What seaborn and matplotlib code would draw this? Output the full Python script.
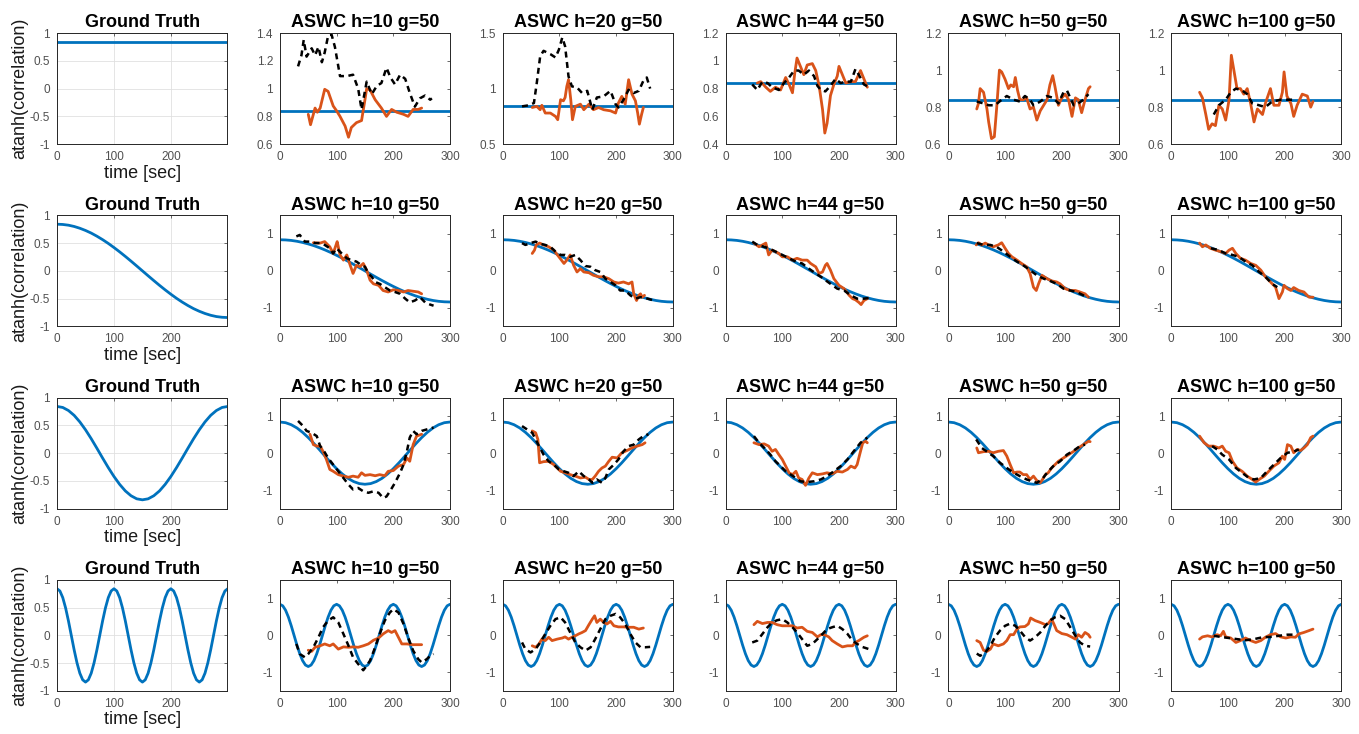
import matplotlib
matplotlib.use("Agg")
import matplotlib.pyplot as plt
from matplotlib.ticker import FuncFormatter
import seaborn as sns
import pandas as pd

# ── Style ────────────────────────────────────────────────────────────────────
sns.set_theme(style="white")
plt.rcParams.update({
    "axes.unicode_minus": False,
    "axes.edgecolor": "#262626",
    "axes.linewidth": 0.7,
    "xtick.direction": "in",
    "ytick.direction": "in",
    "xtick.color": "#505050",
    "ytick.color": "#505050",
    "text.color": "black",
    "axes.labelcolor": "#1a1a1a",
})
plt.rcParams["font.family"] = ["Liberation Sans", "DejaVu Sans"]

BLUE = "#0072BD"
ORANGE = "#D95319"
TITLES = ["Ground Truth", "ASWC h=10 g=50", "ASWC h=20 g=50",
          "ASWC h=44 g=50", "ASWC h=50 g=50", "ASWC h=100 g=50"]

# ── Ground truth curves ──────────────────────────────────────────────────────
GT_T_FLAT = [0, 300]
GT_FLAT = [0.84, 0.84]

GT_T10 = [0, 10, 20, 30, 40, 50, 60, 70, 80, 90, 100, 110, 120, 130, 140, 150,
          160, 170, 180, 190, 200, 210, 220, 230, 240, 250, 260, 270, 280, 290, 300]
GT_SLOW = [0.840, 0.835, 0.822, 0.799, 0.767, 0.727, 0.680, 0.624, 0.562, 0.494, 0.420,
           0.342, 0.260, 0.175, 0.088, 0.000, -0.088, -0.175, -0.260, -0.342, -0.420,
           -0.494, -0.562, -0.624, -0.680, -0.727, -0.767, -0.799, -0.822, -0.835, -0.840]
GT_MID = [0.840, 0.822, 0.767, 0.680, 0.562, 0.420, 0.260, 0.088, -0.088, -0.260, -0.420,
          -0.562, -0.680, -0.767, -0.822, -0.840, -0.822, -0.767, -0.680, -0.562, -0.420,
          -0.260, -0.088, 0.088, 0.260, 0.420, 0.562, 0.680, 0.767, 0.822, 0.840]

GT_T5 = [0, 5, 10, 15, 20, 25, 30, 35, 40, 45, 50, 55, 60, 65, 70, 75, 80, 85, 90, 95,
         100, 105, 110, 115, 120, 125, 130, 135, 140, 145, 150, 155, 160, 165, 170, 175,
         180, 185, 190, 195, 200, 205, 210, 215, 220, 225, 230, 235, 240, 245, 250, 255,
         260, 265, 270, 275, 280, 285, 290, 295, 300]
GT_FAST = [0.840, 0.799, 0.680, 0.494, 0.260, 0.000, -0.260, -0.494, -0.680, -0.799,
           -0.840, -0.799, -0.680, -0.494, -0.260, 0.000, 0.260, 0.494, 0.680, 0.799,
           0.840, 0.799, 0.680, 0.494, 0.260, 0.000, -0.260, -0.494, -0.680, -0.799,
           -0.840, -0.799, -0.680, -0.494, -0.260, 0.000, 0.260, 0.494, 0.680, 0.799,
           0.840, 0.799, 0.680, 0.494, 0.260, 0.000, -0.260, -0.494, -0.680, -0.799,
           -0.840, -0.799, -0.680, -0.494, -0.260, 0.000, 0.260, 0.494, 0.680, 0.799,
           0.840]

# ── Estimates (time, value) ──────────────────────────────────────────────────
# Row 1: constant correlation
R1_H10_RED = [(50, 0.815), (54, 0.74), (58, 0.80), (62, 0.86), (66, 0.83), (71, 0.86), (79, 0.995),
              (85, 0.98), (94, 0.875), (100, 0.84), (106, 0.80), (115, 0.73), (121, 0.65), (126, 0.72),
              (135, 0.755), (144, 0.77), (150, 0.92), (153, 1.0), (159, 0.99), (168, 0.92), (179, 0.86),
              (188, 0.80), (197, 0.85), (206, 0.83), (218, 0.815), (226, 0.80), (235, 0.85), (244, 0.85),
              (250, 0.86)]
R1_H10_BLACK = [(32, 1.16), (38, 1.24), (42, 1.35), (47, 1.23), (56, 1.29), (62, 1.24), (68, 1.30),
                (74, 1.19), (79, 1.26), (85, 1.38), (91, 1.39), (97, 1.30), (106, 1.09), (118, 1.09),
                (129, 1.10), (138, 1.0), (144, 0.85), (153, 1.05), (162, 0.96), (171, 1.02), (179, 1.04),
                (188, 1.15), (195, 1.08), (203, 1.03), (212, 1.10), (221, 1.07), (229, 0.97), (238, 0.87),
                (247, 0.93), (256, 0.95), (265, 0.92), (268, 0.93)]
R1_H20_RED = [(52, 0.83), (60, 0.84), (66, 0.81), (69, 0.85), (75, 0.78), (84, 0.78), (93, 0.75),
              (97, 0.72), (102, 0.90), (107, 0.89), (110, 0.92), (113, 1.02), (116, 1.08), (120, 0.90),
              (123, 0.72), (128, 0.84), (137, 0.86), (143, 0.81), (152, 0.86), (160, 0.81), (169, 0.83),
              (178, 0.81), (190, 0.80), (199, 0.78), (204, 0.87), (210, 0.93), (216, 0.86), (222, 1.08),
              (228, 0.95), (234, 0.89), (238, 0.78), (241, 0.68), (245, 0.77), (248, 0.83)]
R1_H20_BLACK = [(34, 0.84), (46, 0.85), (55, 0.87), (60, 1.05), (66, 1.29), (72, 1.34), (84, 1.31),
                (93, 1.28), (99, 1.35), (105, 1.46), (110, 1.38), (116, 1.11), (122, 1.02), (131, 1.01),
                (140, 0.96), (149, 0.98), (158, 0.81), (166, 0.92), (178, 0.93), (190, 0.98), (199, 0.86),
                (204, 0.83), (213, 0.90), (222, 0.99), (231, 0.96), (240, 0.98), (248, 1.07), (254, 1.10),
                (260, 1.0)]
R1_H44_RED = [(56, 0.84), (62, 0.85), (71, 0.81), (79, 0.78), (88, 0.81), (97, 0.79), (106, 0.88),
              (112, 0.83), (118, 0.77), (122, 0.91), (126, 1.02), (132, 0.96), (138, 0.90), (144, 0.97),
              (153, 0.98), (159, 0.93), (165, 0.82), (171, 0.65), (175, 0.48), (179, 0.55), (185, 0.75),
              (191, 0.83), (197, 0.89), (200, 0.96), (206, 0.90), (212, 0.84), (221, 0.85), (229, 0.85),
              (238, 0.93), (244, 0.87), (250, 0.81)]
R1_H44_BLACK = [(47, 0.83), (56, 0.79), (65, 0.85), (74, 0.84), (82, 0.81), (94, 0.79), (103, 0.84),
                (112, 0.88), (121, 0.93), (129, 0.93), (138, 0.90), (147, 0.93), (156, 0.89), (162, 0.82),
                (168, 0.79), (176, 0.78), (185, 0.82), (194, 0.87), (203, 0.84), (212, 0.85), (221, 0.85),
                (229, 0.94), (235, 0.90), (244, 0.83), (253, 0.81)]
R1_H50_RED = [(50, 0.79), (53, 0.82), (56, 0.90), (62, 0.88), (68, 0.79), (71, 0.72), (76, 0.63),
              (81, 0.64), (85, 0.79), (90, 1.0), (94, 0.99), (100, 0.95), (106, 0.90), (110, 0.92),
              (115, 0.91), (118, 0.96), (122, 0.89), (126, 0.84), (132, 0.84), (138, 0.85), (144, 0.79),
              (150, 0.80), (156, 0.73), (162, 0.78), (168, 0.81), (174, 0.84), (179, 0.92), (184, 0.97),
              (188, 0.91), (194, 0.81), (200, 0.85), (206, 0.87), (212, 0.84), (218, 0.75), (224, 0.85),
              (229, 0.84), (235, 0.77), (241, 0.84), (247, 0.90), (250, 0.91)]
R1_H50_BLACK = [(50, 0.83), (62, 0.82), (71, 0.81), (82, 0.81), (94, 0.84), (103, 0.86), (115, 0.84),
                (126, 0.83), (135, 0.86), (144, 0.84), (150, 0.81), (162, 0.83), (174, 0.86), (185, 0.85),
                (194, 0.82), (203, 0.88), (209, 0.89), (215, 0.85), (221, 0.81), (229, 0.82), (238, 0.84),
                (247, 0.87)]
R1_H100_RED = [(50, 0.88), (55, 0.85), (61, 0.76), (66, 0.68), (72, 0.71), (78, 0.70), (84, 0.81),
               (90, 0.79), (96, 0.73), (102, 0.84), (106, 1.08), (111, 0.99), (116, 0.90), (122, 0.90),
               (128, 0.87), (134, 0.90), (140, 0.82), (146, 0.72), (152, 0.79), (161, 0.76), (166, 0.82),
               (175, 0.90), (181, 0.81), (190, 0.81), (196, 0.88), (199, 0.99), (204, 0.86), (211, 0.82),
               (216, 0.75), (222, 0.81), (231, 0.87), (240, 0.86), (246, 0.80), (250, 0.83)]
R1_H100_BLACK = [(75, 0.76), (84, 0.81), (96, 0.84), (105, 0.88), (114, 0.90), (125, 0.89), (134, 0.87),
                 (143, 0.82), (155, 0.81), (166, 0.80), (178, 0.83), (193, 0.84), (205, 0.84), (216, 0.84)]

# Row 2: slow half-cosine
R2_H10_RED = [(59, 0.76), (71, 0.75), (79, 0.79), (88, 0.65), (94, 0.47), (99, 0.70), (101, 0.79),
              (106, 0.43), (112, 0.29), (118, 0.43), (124, 0.15), (129, -0.07), (135, 0.15), (141, 0.11),
              (147, 0.20), (153, 0.02), (159, -0.25), (165, -0.35), (174, -0.39), (182, -0.53),
              (191, -0.57), (200, -0.51), (209, -0.53), (218, -0.57), (226, -0.53), (235, -0.55),
              (244, -0.57), (250, -0.62)]
R2_H10_BLACK = [(29, 0.93), (35, 0.97), (44, 0.79), (53, 0.79), (62, 0.75), (71, 0.75), (79, 0.70),
                (88, 0.61), (94, 0.47), (100, 0.61), (109, 0.47), (118, 0.34), (126, 0.29), (135, 0.25),
                (144, 0.15), (150, 0.11), (156, -0.07), (162, -0.16), (168, -0.30), (176, -0.35),
                (185, -0.44), (194, -0.53), (203, -0.57), (212, -0.62), (221, -0.75), (229, -0.85),
                (238, -0.80), (247, -0.71), (256, -0.85), (265, -0.91), (271, -0.94)]
R2_H20_RED = [(52, 0.47), (56, 0.56), (59, 0.70), (65, 0.75), (72, 0.70), (81, 0.65), (90, 0.56),
              (99, 0.38), (108, 0.20), (113, 0.29), (119, 0.43), (125, 0.15), (131, -0.03), (137, 0.06),
              (143, -0.03), (152, -0.05), (160, -0.12), (169, -0.16), (178, -0.16), (187, -0.21),
              (196, -0.30), (204, -0.33), (213, -0.30), (222, -0.35), (228, -0.30), (231, -0.62),
              (236, -0.80), (240, -0.66), (243, -0.62), (246, -0.71), (250, -0.66)]
R2_H20_BLACK = [(34, 0.75), (40, 0.70), (49, 0.75), (58, 0.79), (66, 0.73), (75, 0.70), (84, 0.65),
                (93, 0.52), (102, 0.43), (110, 0.43), (119, 0.38), (128, 0.43), (137, 0.29), (146, 0.13),
                (155, 0.11), (163, 0.02), (172, -0.03), (181, -0.21), (190, -0.30), (199, -0.39),
                (207, -0.53), (216, -0.53), (225, -0.66), (234, -0.75), (243, -0.71), (251, -0.73),
                (260, -0.77), (266, -0.80)]
R2_H44_RED = [(50, 0.75), (59, 0.65), (65, 0.70), (71, 0.75), (76, 0.43), (82, 0.56), (88, 0.52),
              (94, 0.47), (100, 0.38), (109, 0.38), (118, 0.29), (126, 0.34), (135, 0.29), (144, 0.29),
              (150, 0.20), (159, 0.11), (165, -0.07), (171, -0.03), (176, 0.15), (179, 0.20), (185, 0.02),
              (191, -0.21), (200, -0.39), (209, -0.48), (218, -0.66), (224, -0.75), (229, -0.78),
              (235, -0.85), (239, -0.91), (244, -0.80), (250, -0.75)]
R2_H44_BLACK = [(47, 0.79), (56, 0.70), (68, 0.65), (76, 0.61), (88, 0.52), (100, 0.43), (112, 0.34),
                (124, 0.25), (135, 0.20), (147, 0.06), (159, -0.07), (168, -0.16), (176, -0.25),
                (185, -0.35), (197, -0.48), (209, -0.53), (221, -0.66), (232, -0.75), (244, -0.75),
                (253, -0.73)]
R2_H50_RED = [(49, 0.70), (53, 0.76), (59, 0.70), (65, 0.75), (71, 0.70), (79, 0.65), (88, 0.70),
              (94, 0.76), (100, 0.61), (106, 0.47), (112, 0.38), (121, 0.29), (129, 0.20), (138, 0.11),
              (144, -0.07), (150, -0.44), (155, -0.53), (159, -0.35), (165, -0.12), (174, -0.21),
              (182, -0.27), (191, -0.30), (197, -0.35), (206, -0.48), (215, -0.53), (224, -0.53),
              (232, -0.57), (241, -0.62), (247, -0.71)]
R2_H50_BLACK = [(50, 0.75), (62, 0.70), (74, 0.70), (85, 0.65), (97, 0.52), (109, 0.38), (121, 0.25),
                (132, 0.15), (144, 0.02), (156, -0.12), (168, -0.21), (179, -0.27), (191, -0.35),
                (203, -0.48), (215, -0.53), (226, -0.57), (238, -0.66), (247, -0.71)]
R2_H100_RED = [(50, 0.75), (55, 0.65), (61, 0.70), (69, 0.61), (78, 0.56), (87, 0.52), (96, 0.47),
               (102, 0.56), (108, 0.61), (114, 0.47), (122, 0.34), (131, 0.29), (140, 0.20), (149, 0.15),
               (158, 0.02), (166, -0.16), (175, -0.30), (184, -0.44), (190, -0.75), (196, -0.57),
               (199, -0.39), (205, -0.48), (211, -0.53), (216, -0.45), (225, -0.53), (234, -0.57),
               (243, -0.71), (250, -0.71)]
R2_H100_BLACK = [(70, 0.61), (84, 0.56), (96, 0.47), (108, 0.43), (119, 0.38), (131, 0.25), (143, 0.15),
                 (155, -0.03), (166, -0.16), (178, -0.35), (187, -0.44)]

# Row 3: one full cosine period
R3_H10_RED = [(53, 0.51), (59, 0.23), (65, 0.19), (71, 0.19), (76, 0.05), (82, -0.17), (88, -0.44),
              (94, -0.49), (103, -0.58), (112, -0.62), (121, -0.65), (129, -0.62), (138, -0.65),
              (144, -0.53), (150, -0.60), (159, -0.58), (168, -0.61), (176, -0.58), (185, -0.61),
              (191, -0.49), (200, -0.47), (209, -0.35), (218, -0.31), (224, -0.13), (229, -0.22),
              (235, 0.23), (241, 0.46), (250, 0.51)]
R3_H10_BLACK = [(32, 0.87), (41, 0.73), (47, 0.60), (56, 0.55), (65, 0.46), (71, 0.19), (76, 0.10),
                (85, -0.13), (94, -0.31), (103, -0.49), (112, -0.67), (121, -0.85), (129, -0.98),
                (138, -0.94), (147, -1.03), (156, -1.07), (165, -1.03), (174, -1.07), (182, -1.21),
                (188, -1.17), (194, -1.03), (203, -0.80), (212, -0.53), (218, -0.31), (224, 0.05),
                (229, 0.42), (235, 0.60), (241, 0.51), (250, 0.60), (259, 0.64), (271, 0.69)]
R3_H20_RED = [(52, 0.60), (58, 0.55), (62, 0.37), (65, -0.26), (72, -0.23), (81, -0.22), (90, -0.31),
              (96, -0.40), (102, -0.49), (110, -0.53), (119, -0.58), (128, -0.62), (137, -0.67),
              (146, -0.65), (152, -0.71), (158, -0.71), (163, -0.62), (169, -0.49), (175, -0.40),
              (181, -0.35), (187, -0.22), (193, -0.11), (202, -0.13), (210, 0.01), (219, 0.07),
              (228, 0.14), (237, 0.19), (246, 0.23), (251, 0.28)]
R3_H20_BLACK = [(34, 0.73), (43, 0.64), (52, 0.55), (58, 0.37), (64, 0.19), (72, -0.04), (81, -0.22),
                (90, -0.31), (99, -0.44), (108, -0.49), (116, -0.53), (125, -0.62), (134, -0.49),
                (143, -0.62), (152, -0.71), (158, -0.80), (166, -0.71), (175, -0.80), (181, -0.67),
                (187, -0.44), (196, -0.31), (204, -0.17), (213, 0.05), (222, 0.19), (231, 0.23),
                (240, 0.37), (248, 0.46), (257, 0.51)]
R3_H44_RED = [(50, 0.28), (59, 0.23), (68, 0.25), (76, 0.19), (82, 0.05), (88, 0.10), (94, -0.04),
              (100, -0.17), (106, -0.35), (112, -0.53), (118, -0.58), (124, -0.49), (129, -0.67),
              (135, -0.71), (141, -0.87), (147, -0.67), (153, -0.53), (162, -0.58), (171, -0.56),
              (179, -0.53), (188, -0.56), (197, -0.49), (206, -0.51), (215, -0.44), (221, -0.35),
              (228, -0.40), (232, -0.31), (238, 0.05), (242, 0.28), (247, 0.32), (250, 0.28)]
R3_H44_BLACK = [(50, 0.46), (59, 0.28), (71, 0.10), (79, -0.04), (88, -0.22), (97, -0.35), (106, -0.49),
                (115, -0.58), (124, -0.67), (132, -0.76), (144, -0.78), (156, -0.76), (168, -0.71),
                (179, -0.62), (191, -0.49), (203, -0.35), (215, -0.17), (226, 0.05), (238, 0.28),
                (250, 0.42)]
R3_H50_RED = [(50, 0.14), (53, 0.01), (62, 0.04), (71, 0.05), (79, 0.01), (88, 0.05), (97, 0.07),
              (103, -0.08), (109, -0.31), (115, -0.53), (121, -0.51), (126, -0.51), (132, -0.58),
              (138, -0.58), (144, -0.71), (150, -0.62), (156, -0.74), (162, -0.80), (166, -0.71),
              (171, -0.58), (176, -0.53), (182, -0.40), (188, -0.31), (194, -0.22), (203, -0.13),
              (212, -0.04), (221, 0.05), (229, 0.14), (238, 0.23), (247, 0.32), (250, 0.31)]
R3_H50_BLACK = [(49, 0.37), (59, 0.14), (68, 0.04), (79, -0.08), (91, -0.26), (103, -0.40), (115, -0.53),
                (126, -0.62), (138, -0.71), (147, -0.76), (156, -0.80), (165, -0.71), (174, -0.53),
                (185, -0.35), (197, -0.22), (209, -0.04), (221, 0.07), (232, 0.19), (241, 0.23)]
R3_H100_RED = [(50, 0.46), (58, 0.28), (66, 0.19), (75, 0.19), (84, 0.14), (90, 0.19), (96, 0.05),
               (102, 0.01), (108, -0.22), (116, -0.40), (125, -0.49), (134, -0.62), (143, -0.71),
               (149, -0.78), (155, -0.71), (164, -0.62), (172, -0.49), (181, -0.35), (190, -0.26),
               (196, -0.08), (200, -0.17), (205, 0.23), (211, 0.19), (216, 0.01), (222, 0.10),
               (228, 0.07), (234, 0.14), (240, 0.23), (246, 0.42), (250, 0.46)]
R3_H100_BLACK = [(72, 0.19), (81, 0.10), (90, -0.04), (102, -0.17), (114, -0.40), (125, -0.53),
                 (137, -0.67), (146, -0.71), (158, -0.67), (169, -0.49), (181, -0.31), (193, -0.13),
                 (205, 0.01), (216, 0.04), (225, 0.10)]

# Row 4: fast cosine (period 100 s)
R4_H10_RED = [(50, -0.40), (56, -0.43), (62, -0.32), (71, -0.28), (79, -0.23), (88, -0.28), (94, -0.23),
              (103, -0.37), (112, -0.31), (121, -0.32), (129, -0.31), (138, -0.32), (147, -0.28),
              (156, -0.23), (165, -0.13), (174, -0.07), (182, 0.04), (191, 0.13), (197, 0.08),
              (203, 0.13), (209, -0.05), (215, -0.23), (224, -0.23), (235, -0.25), (250, -0.25)]
R4_H10_BLACK = [(29, -0.23), (35, -0.50), (44, -0.59), (50, -0.50), (59, -0.32), (68, -0.05), (76, 0.22),
                (85, 0.40), (94, 0.49), (103, 0.35), (112, 0.04), (121, -0.28), (129, -0.59),
                (138, -0.77), (147, -0.94), (153, -0.82), (159, -0.68), (168, -0.32), (176, 0.04),
                (185, 0.40), (194, 0.62), (200, 0.71), (209, 0.62), (218, 0.31), (226, -0.05),
                (235, -0.41), (244, -0.64), (250, -0.73), (259, -0.64), (265, -0.55), (271, -0.50)]
R4_H20_RED = [(52, -0.28), (58, -0.32), (64, -0.23), (69, -0.10), (75, -0.14), (81, -0.05), (87, -0.14),
              (96, -0.10), (105, -0.07), (110, -0.04), (116, -0.10), (122, -0.05), (128, -0.01),
              (134, 0.04), (140, 0.08), (146, 0.13), (152, 0.29), (158, 0.44), (162, 0.53), (166, 0.35),
              (172, 0.44), (178, 0.35), (184, 0.31), (190, 0.38), (196, 0.26), (204, 0.23), (213, 0.23),
              (222, 0.22), (231, 0.22), (240, 0.17), (248, 0.20)]
R4_H20_BLACK = [(34, -0.19), (40, -0.37), (49, -0.46), (58, -0.37), (66, -0.19), (75, 0.04), (84, 0.26),
                (93, 0.44), (102, 0.49), (110, 0.35), (119, 0.08), (128, -0.19), (137, -0.32),
                (146, -0.41), (155, -0.32), (163, -0.10), (172, 0.17), (181, 0.44), (190, 0.53),
                (199, 0.58), (207, 0.49), (216, 0.31), (225, 0.04), (234, -0.19), (243, -0.32),
                (251, -0.32), (260, -0.31)]
R4_H44_RED = [(50, 0.29), (56, 0.38), (65, 0.32), (74, 0.35), (82, 0.35), (91, 0.29), (100, 0.26),
              (109, 0.26), (118, 0.26), (126, 0.20), (135, 0.22), (144, 0.11), (153, 0.08), (162, -0.04),
              (168, 0.02), (174, 0.02), (182, -0.04), (188, -0.14), (197, -0.23), (206, -0.31),
              (215, -0.28), (224, -0.28), (229, -0.19), (235, -0.14), (244, -0.05), (250, -0.01)]
R4_H44_BLACK = [(47, -0.19), (56, -0.14), (65, 0.04), (74, 0.22), (82, 0.35), (91, 0.41), (100, 0.44),
                (109, 0.35), (118, 0.22), (126, 0.08), (135, -0.10), (144, -0.28), (153, -0.23),
                (162, -0.10), (171, 0.04), (179, 0.17), (188, 0.22), (197, 0.26), (206, 0.17),
                (215, 0.04), (224, -0.14), (232, -0.23), (241, -0.31), (253, -0.37)]
R4_H50_RED = [(50, -0.14), (56, -0.19), (62, -0.40), (68, -0.43), (74, -0.37), (79, -0.23), (88, -0.28),
              (97, -0.23), (103, -0.14), (109, 0.02), (115, 0.02), (121, 0.17), (126, 0.23), (135, 0.24),
              (141, 0.31), (145, 0.47), (153, 0.40), (162, 0.35), (171, 0.29), (176, 0.32), (182, 0.44),
              (186, 0.31), (191, 0.13), (200, 0.05), (209, 0.02), (218, -0.05), (224, -0.10),
              (229, 0.02), (235, -0.05), (241, 0.08), (247, 0.02), (250, -0.05)]
R4_H50_BLACK = [(50, -0.49), (56, -0.55), (65, -0.46), (74, -0.28), (82, -0.05), (91, 0.13), (100, 0.26),
                (109, 0.32), (118, 0.26), (126, 0.13), (135, -0.04), (144, -0.14), (153, -0.05),
                (162, 0.08), (171, 0.26), (179, 0.40), (188, 0.49), (197, 0.53), (206, 0.44), (215, 0.22),
                (224, -0.01), (232, -0.19), (241, -0.28), (250, -0.30)]
R4_H100_RED = [(50, -0.10), (55, -0.04), (64, -0.01), (72, -0.04), (81, 0.02), (87, -0.01), (92, 0.11),
               (96, -0.04), (105, -0.07), (114, -0.19), (122, -0.14), (131, -0.07), (140, -0.14),
               (149, -0.19), (158, -0.14), (166, -0.05), (175, 0.02), (184, 0.05), (193, -0.04),
               (202, -0.07), (211, -0.04), (219, -0.05), (225, 0.04), (234, 0.08), (243, 0.13),
               (250, 0.17)]
R4_H100_BLACK = [(75, -0.01), (87, -0.04), (102, -0.07), (116, -0.10), (131, -0.13), (146, -0.10),
                 (161, -0.05), (175, -0.04), (190, -0.01), (205, 0.02), (219, 0.02)]

# Axis ranges for the first row (they differ per panel)
ROW1_YLIMS = [(0.6, 1.4), (0.5, 1.5), (0.4, 1.2), (0.6, 1.2), (0.6, 1.2)]
ROW1_YTICKS = [[0.6, 0.8, 1, 1.2, 1.4], [0.5, 1, 1.5], [0.4, 0.6, 0.8, 1, 1.2],
               [0.6, 0.8, 1, 1.2], [0.6, 0.8, 1, 1.2]]

GROUND_TRUTH = [(GT_T_FLAT, GT_FLAT), (GT_T10, GT_SLOW), (GT_T10, GT_MID), (GT_T5, GT_FAST)]
ESTIMATES = [
    [(R1_H10_RED, R1_H10_BLACK), (R1_H20_RED, R1_H20_BLACK), (R1_H44_RED, R1_H44_BLACK),
     (R1_H50_RED, R1_H50_BLACK), (R1_H100_RED, R1_H100_BLACK)],
    [(R2_H10_RED, R2_H10_BLACK), (R2_H20_RED, R2_H20_BLACK), (R2_H44_RED, R2_H44_BLACK),
     (R2_H50_RED, R2_H50_BLACK), (R2_H100_RED, R2_H100_BLACK)],
    [(R3_H10_RED, R3_H10_BLACK), (R3_H20_RED, R3_H20_BLACK), (R3_H44_RED, R3_H44_BLACK),
     (R3_H50_RED, R3_H50_BLACK), (R3_H100_RED, R3_H100_BLACK)],
    [(R4_H10_RED, R4_H10_BLACK), (R4_H20_RED, R4_H20_BLACK), (R4_H44_RED, R4_H44_BLACK),
     (R4_H50_RED, R4_H50_BLACK), (R4_H100_RED, R4_H100_BLACK)],
]

fmt = FuncFormatter(lambda v, p: f"{v:g}")


def draw_line(ax, t, v, color, style="-", lw=2.0):
    sns.lineplot(x=t, y=v, ax=ax, color=color, linewidth=lw, linestyle=style,
                 estimator=None, sort=False)


def style_axes(ax):
    ax.tick_params(axis="both", which="both", labelsize=8.5, length=2.5, width=0.6,
                   top=True, right=True, pad=5)
    for sp in ax.spines.values():
        sp.set_visible(True)
        sp.set_color("#262626")
        sp.set_linewidth(0.7)
    ax.xaxis.set_major_formatter(fmt)
    ax.yaxis.set_major_formatter(fmt)
    ax.set_xlabel("")
    ax.set_ylabel("")


fig, axes = plt.subplots(4, 6, figsize=(13.59, 7.34), dpi=100)
fig.subplots_adjust(left=0.042, right=0.987, top=0.955, bottom=0.0586,
                    wspace=0.31, hspace=0.64)

for r in range(4):
    gt_t, gt_v = GROUND_TRUTH[r]

    # ground-truth column
    ax = axes[r, 0]
    draw_line(ax, gt_t, gt_v, BLUE)
    style_axes(ax)
    ax.set_xlim(0, 299)
    ax.set_ylim(-1, 1)
    ax.set_xticks([0, 100, 200])
    ax.set_yticks([-1, -0.5, 0, 0.5, 1])
    ax.grid(True, color="#e0e0e0", linewidth=0.6)
    ax.set_axisbelow(True)
    ax.set_title(TITLES[0], fontsize=13, fontweight="bold", pad=4, color="black")
    ax.set_xlabel("time [sec]", fontsize=13, labelpad=1)
    ax.set_ylabel("atanh(correlation)", fontsize=13, labelpad=1)

    # ASWC estimate columns
    for c in range(5):
        ax = axes[r, c + 1]
        red, black = ESTIMATES[r][c]
        draw_line(ax, gt_t, gt_v, BLUE)
        draw_line(ax, [p[0] for p in red], [p[1] for p in red], ORANGE)
        draw_line(ax, [p[0] for p in black], [p[1] for p in black], "black",
                  style=(0, (2.4, 1.8)), lw=1.8)
        style_axes(ax)
        ax.grid(False)
        ax.set_xlim(0, 300)
        ax.set_xticks([0, 100, 200, 300])
        if r == 0:
            ax.set_ylim(*ROW1_YLIMS[c])
            ax.set_yticks(ROW1_YTICKS[c])
        else:
            ax.set_ylim(-1.5, 1.5)
            ax.set_yticks([-1, 0, 1])
        ax.set_title(TITLES[c + 1], fontsize=13, fontweight="bold", pad=4, color="black")

fig.savefig("out.png", dpi=100)
